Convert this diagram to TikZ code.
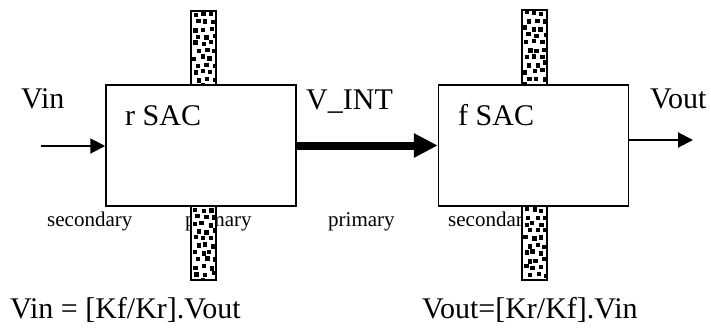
\documentclass[tikz,border=0pt]{standalone}
\usepackage{fontspec}
\setmainfont{Liberation Serif}
\usetikzlibrary{arrows.meta}
\newcommand\speckbar[4]{%
  \begin{scope}
    \clip (#1,#2) rectangle (#3,#4);
    \fill[white] (#1,#2) rectangle (#3,#4);
    \foreach \r in {0,...,10}{
      \foreach \c in {0,...,2}{
        \pgfmathsetmacro\dx{rand*1.6}
        \pgfmathsetmacro\dy{rand*1.6}
        \pgfmathsetmacro\ox{mod(\r,2)*3.5}
        \fill (#1+1.5+\c*8+\ox+\dx, #2+1.5+\r*7.2+\dy) rectangle +(4.4,4.4);
      }
    }
  \end{scope}
  \draw[line width=2pt] (#1,#2) rectangle (#3,#4);
}
\begin{document}
\begin{tikzpicture}[x=1pt,y=-1pt,
  box/.style={draw,line width=1.5pt,minimum width=190pt,minimum height=121pt,inner sep=0pt},
  lbl/.style={font=\fontsize{30}{36}\selectfont,inner sep=0pt,anchor=base west},
  small/.style={font=\fontsize{21}{25}\selectfont,inner sep=0pt,anchor=base west},
  thinarrow/.style={line width=2pt,-{Triangle[length=15pt,width=15pt]}},
  thickarrow/.style={line width=8pt,-{Triangle[length=24pt,width=23pt]}}]
\pgfmathsetseed{11}
\useasboundingbox (0,0) rectangle (711,327);
% boxes
\node[box] (rbox) at (201,145.5) {};
\node[box] (fbox) at (533.5,145.5) {};
% labels
\node[lbl] (vin) at (21,108) {Vin};
\node[lbl] (rsac) at (125,125) {r SAC};
\node[lbl] (fsac) at (458,125) {f SAC};
\node[lbl] (vint) at (306,109) {V\_INT};
\node[lbl] (vout) at (650,108) {Vout};
\node[small] (sec1) at (47,226) {secondary};
\node[small] (pri1) at (185,226) {primary};
\node[small] (pri2) at (328,226) {primary};
\node[small] (sec2) at (448,226) {secondary};
\node[lbl] (eq1) at (10,318) {Vin = [Kf/Kr].Vout};
\node[lbl] (eq2) at (422,318) {Vout=[Kr/Kf].Vin};
% arrows
\coordinate (inStart) at (41,146);
\coordinate (outEnd) at (693,140);
\draw[thinarrow] (inStart) -- (inStart -| rbox.west);
\draw[thickarrow] (rbox.east) -- (fbox.west);
\draw[thinarrow] (outEnd -| fbox.east) -- (outEnd);
% speckled bars
\speckbar{191}{11}{216}{85}
\speckbar{191}{206}{216}{280}
\speckbar{522}{10}{547}{85}
\speckbar{522}{206}{547}{280}
\end{tikzpicture}
\end{document}
